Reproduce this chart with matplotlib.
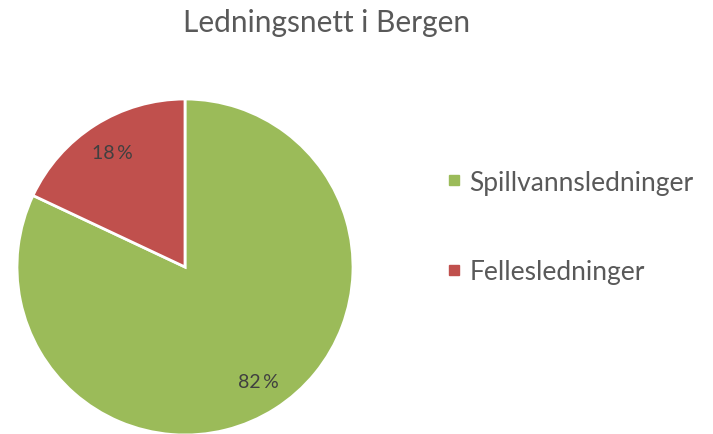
import matplotlib.pyplot as plt
from matplotlib.lines import Line2D

labels = ['Spillvannsledninger', 'Fellesledninger']
values = [82, 18]
colors = ['#9BBB59', '#C0504D']
title = 'Ledningsnett i Bergen'

plt.rcParams['font.family'] = ['Lato', 'DejaVu Sans']
text_col = '#595959'

fig = plt.figure(figsize=(7.13, 4.35), dpi=100)
ax = fig.add_axes([0, 0, 1, 1])

wedges, texts, autotexts = ax.pie(
    values, colors=colors, startangle=90, counterclock=False,
    center=(185, 167), radius=168, frame=True,
    autopct=lambda p: '{:.0f}\u2009%'.format(p), pctdistance=0.81,
    wedgeprops=dict(edgecolor='white', linewidth=2),
    textprops=dict(color='#404040', fontsize=14))
ax.set_xlim(0, 713)
ax.set_ylim(0, 435)
ax.set_aspect('equal')
ax.axis('off')

fig.text(327 / 713, 1 - 23 / 435, title, ha='center', va='center',
         fontsize=21.5, color=text_col)

handles = [Line2D([], [], marker='s', linestyle='none', markersize=7,
                  markerfacecolor=c, markeredgecolor=c) for c in colors]
leg = fig.legend(handles, labels, loc='center left',
                 bbox_to_anchor=(422 / 713, 1 - 228 / 435),
                 frameon=False, fontsize=19, labelspacing=2.45,
                 handletextpad=0.3, handlelength=0.6)
for t in leg.get_texts():
    t.set_color(text_col)

fig.savefig('out.png', dpi=100)
